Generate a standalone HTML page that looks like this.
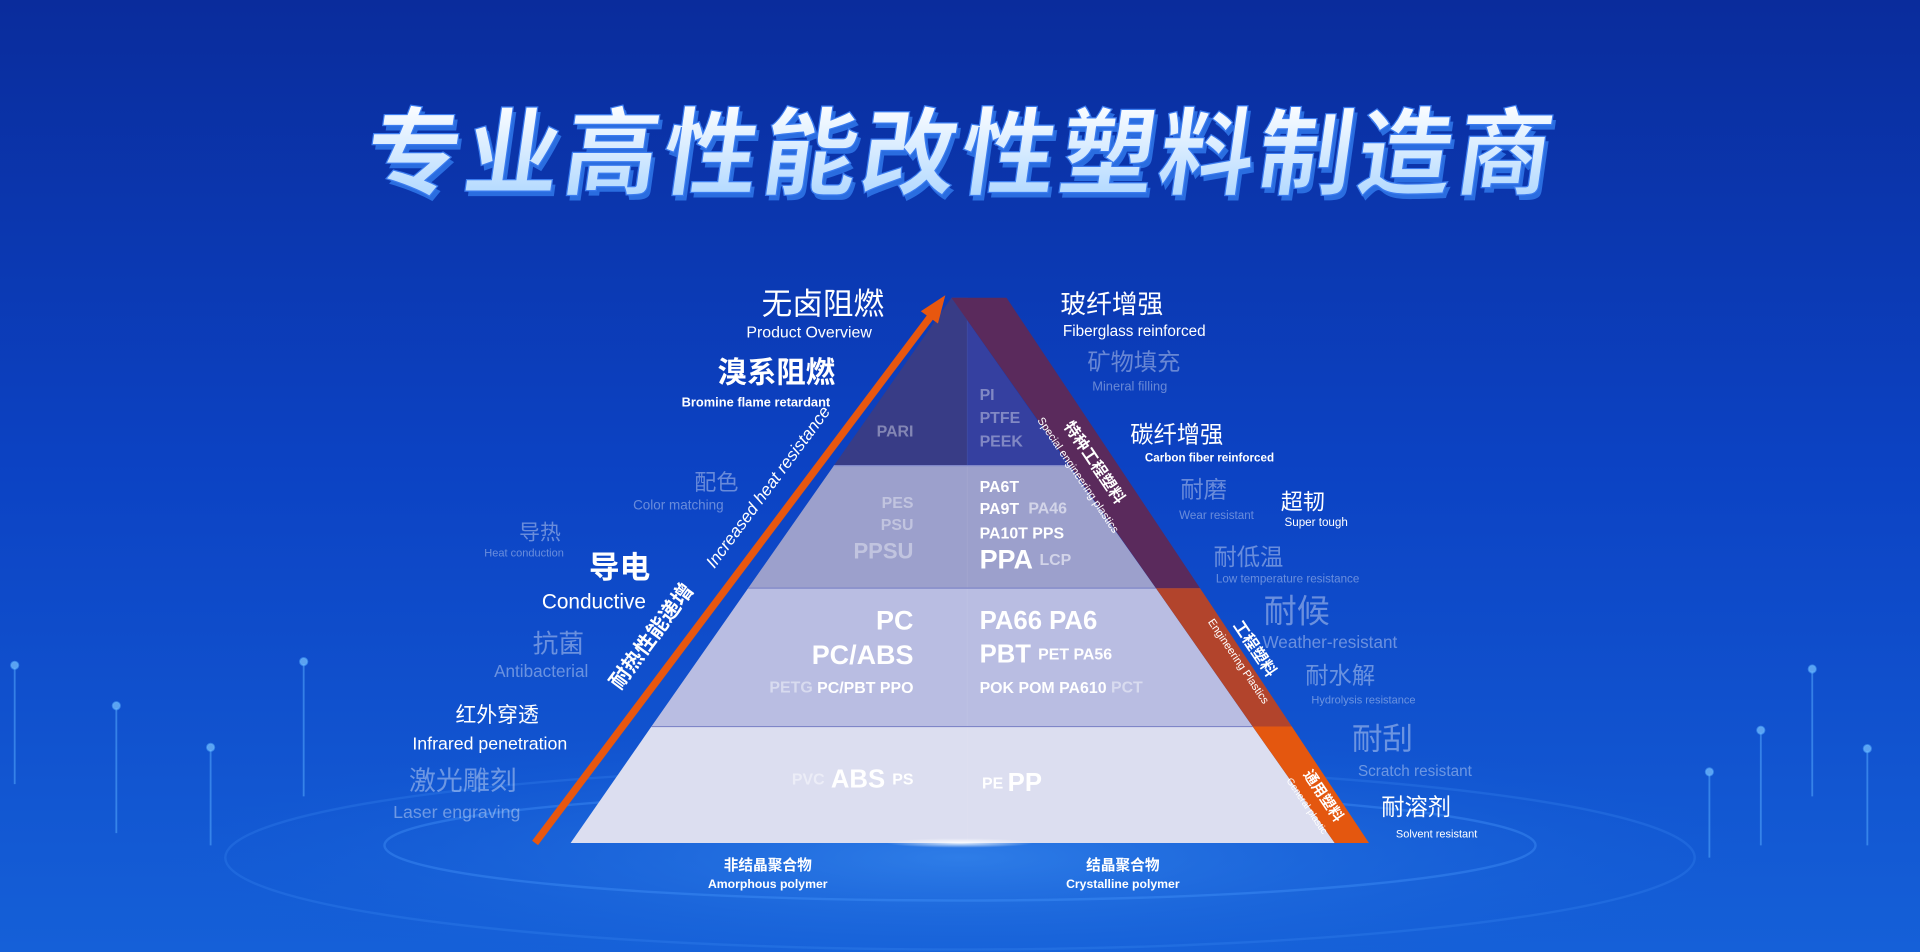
<!DOCTYPE html>
<html><head><meta charset="utf-8"><style>
html,body{margin:0;padding:0;width:1920px;height:952px;overflow:hidden;background:#0a36b0}
svg{display:block}
text{font-family:"Liberation Sans","Noto Sans CJK SC",sans-serif;dominant-baseline:middle}
.w{fill:#fff}.d{fill:#ffffff;fill-opacity:.38}.b{font-weight:bold}
</style></head><body>
<svg width="1920" height="952" viewBox="0 0 1568 777" preserveAspectRatio="none" xmlns="http://www.w3.org/2000/svg">
<defs>
<linearGradient id="bg" x1="0" y1="0" x2="0" y2="1">
<stop offset="0" stop-color="#0a2c9c"/><stop offset=".5" stop-color="#0c43c4"/><stop offset="1" stop-color="#1560d8"/></linearGradient>
<radialGradient id="gl" cx=".5" cy=".5" r=".5">
<stop offset="0" stop-color="#3a8cf0" stop-opacity=".7"/><stop offset="1" stop-color="#1560d8" stop-opacity="0"/></radialGradient>
<linearGradient id="tt" x1="0" y1="0" x2="0" y2="1"><stop offset="0" stop-color="#ffffff"/><stop offset="1" stop-color="#a8d4ff"/></linearGradient>
<radialGradient id="cg" cx=".5" cy=".5" r=".5"><stop offset="0" stop-color="#fff" stop-opacity=".9"/><stop offset="1" stop-color="#fff" stop-opacity="0"/></radialGradient>
</defs>
<rect width="1568" height="777" fill="url(#bg)"/>
<ellipse cx="784" cy="700" rx="650" ry="110" fill="url(#gl)"/>
<ellipse cx="784" cy="690" rx="470" ry="45" fill="none" stroke="#4a9cff" stroke-opacity=".35" stroke-width="2"/>
<ellipse cx="784" cy="700" rx="600" ry="75" fill="none" stroke="#4a9cff" stroke-opacity=".2" stroke-width="2"/>
<g stroke="#5ab0ff" stroke-opacity=".5" stroke-width="1.5" fill="#7cc4ff" fill-opacity=".7">
<line x1="12" y1="545" x2="12" y2="640"/><circle cx="12" cy="543" r="3"/>
<line x1="95" y1="578" x2="95" y2="680"/><circle cx="95" cy="576" r="3"/>
<line x1="248" y1="542" x2="248" y2="650"/><circle cx="248" cy="540" r="3"/>
<line x1="172" y1="612" x2="172" y2="690"/><circle cx="172" cy="610" r="3"/>
<line x1="1438" y1="598" x2="1438" y2="690"/><circle cx="1438" cy="596" r="3"/>
<line x1="1480" y1="548" x2="1480" y2="650"/><circle cx="1480" cy="546" r="3"/>
<line x1="1525" y1="613" x2="1525" y2="690"/><circle cx="1525" cy="611" r="3"/>
<line x1="1396" y1="632" x2="1396" y2="700"/><circle cx="1396" cy="630" r="3"/>
</g>
<!-- title -->
<g transform="translate(784,132) skewX(-8)">
<text x="3" y="4" text-anchor="middle" font-size="78" font-weight="bold" fill="#2a6de0" letter-spacing="3">专业高性能改性塑料制造商</text>
<text x="0" y="0" text-anchor="middle" font-size="78" font-weight="bold" fill="url(#tt)" stroke="#3b7cf0" stroke-width="1" letter-spacing="3">专业高性能改性塑料制造商</text>
</g>
<!-- pyramid tiers -->
<polygon points="777,243 790,243 790,380 681,380" fill="#383c86"/>
<polygon points="790,243 777,243 873,380 790,380" fill="#3540a0"/>
<polygon points="681,380 873,380 944,480 611,480" fill="#9ca0cc"/>
<polygon points="611,480 944,480 1023,593 532,593" fill="#b9bde2"/>
<polygon points="532,593 1023,593 1090,688 466,688" fill="#dcdef0"/>
<line x1="790" y1="243" x2="790" y2="688" stroke="#ffffff" stroke-opacity=".06"/>
<g stroke="#7f86c8" stroke-width="1"><line x1="681" y1="380" x2="873" y2="380"/><line x1="611" y1="480" x2="944" y2="480"/><line x1="532" y1="593" x2="1023" y2="593"/></g>
<!-- right band -->
<polygon points="777,243 822,243 980,480 944,480" fill="#5a2a5c"/>
<polygon points="944,480 980,480 1055,593 1023,593" fill="#b2442c"/>
<polygon points="1023,593 1055,593 1118,688 1090,688" fill="#e4570f"/>
<!-- arrow -->
<line x1="437" y1="688" x2="764" y2="253" stroke="#e8570f" stroke-width="6"/>
<polygon points="772,241 752,254 766,264" fill="#e8570f"/>
<ellipse cx="784" cy="688" rx="60" ry="4" fill="url(#cg)"/>
<!-- arrow labels -->
<text transform="translate(628,398) rotate(-53.5)" text-anchor="middle" font-size="14" font-style="italic" class="w">Increased heat resistance</text>
<text transform="translate(533,520) rotate(-53.5)" text-anchor="middle" font-size="17" class="w b">耐热性能递增</text>
<!-- band labels -->
<text transform="translate(893,378) rotate(56)" text-anchor="middle" font-size="13" class="w b">特种工程塑料</text>
<text transform="translate(880,388) rotate(56)" text-anchor="middle" font-size="9" class="w">Special engineering plastics</text>
<text transform="translate(1024,530) rotate(56)" text-anchor="middle" font-size="13" class="w b">工程塑料</text>
<text transform="translate(1011,540) rotate(56)" text-anchor="middle" font-size="9" class="w">Engineering Plastics</text>
<text transform="translate(1080,650) rotate(56)" text-anchor="middle" font-size="12" class="w b">通用塑料</text>
<text transform="translate(1067,658) rotate(56)" text-anchor="middle" font-size="8" class="w">General plastic</text>
<!-- pyramid text -->
<g class="b">
<text x="746" y="353" text-anchor="end" font-size="13" class="d" fill-opacity=".6">PARI</text>
<text x="800" y="323" font-size="13" class="d" fill-opacity=".6">PI</text>
<text x="800" y="342" font-size="13" class="d" fill-opacity=".6">PTFE</text>
<text x="800" y="361" font-size="13" class="d" fill-opacity=".6">PEEK</text>
<text x="746" y="411" text-anchor="end" font-size="13" class="d" fill-opacity=".65">PES</text>
<text x="746" y="429" text-anchor="end" font-size="13" class="d" fill-opacity=".65">PSU</text>
<text x="746" y="451" text-anchor="end" font-size="18" class="d" fill-opacity=".65">PPSU</text>
<text x="800" y="398" font-size="13" class="w">PA6T</text>
<text x="800" y="416" font-size="13" class="w">PA9T <tspan fill-opacity=".55" dx="4">PA46</tspan></text>
<text x="800" y="436" font-size="13" class="w">PA10T  PPS</text>
<text x="800" y="458" font-size="22" class="w">PPA <tspan font-size="13" fill-opacity=".55">LCP</tspan></text>
<text x="746" y="508" text-anchor="end" font-size="22" class="w">PC</text>
<text x="746" y="536" text-anchor="end" font-size="22" class="w">PC/ABS</text>
<text x="746" y="562" text-anchor="end" font-size="13" class="w"><tspan fill-opacity=".45">PETG</tspan>  PC/PBT  PPO</text>
<text x="800" y="508" font-size="21" class="w">PA66 PA6</text>
<text x="800" y="535" font-size="21" class="w">PBT <tspan font-size="13">PET  PA56</tspan></text>
<text x="800" y="562" font-size="13" class="w">POK  POM  PA610 <tspan fill-opacity=".45">PCT</tspan></text>
<text x="746" y="637" text-anchor="end" font-size="21" class="w"><tspan font-size="13" fill-opacity=".45">PVC</tspan>  ABS <tspan font-size="13">PS</tspan></text>
<text x="802" y="640" font-size="13" class="w">PE  <tspan font-size="21">PP</tspan></text>
</g>
<!-- left labels -->
<text x="722" y="250" text-anchor="end" font-size="25" class="w">无卤阻燃</text>
<text x="712" y="272" text-anchor="end" font-size="13" class="w">Product Overview</text>
<text x="682" y="306" text-anchor="end" font-size="24" class="w b">溴系阻燃</text>
<text x="678" y="329" text-anchor="end" font-size="10.5" class="w b">Bromine flame retardant</text>
<text x="585" y="395" text-anchor="middle" font-size="18" class="d">配色</text>
<text x="554" y="413" text-anchor="middle" font-size="11" class="d">Color matching</text>
<text x="441" y="436" text-anchor="middle" font-size="17" class="d">导热</text>
<text x="428" y="452" text-anchor="middle" font-size="9" class="d">Heat conduction</text>
<text x="506" y="465" text-anchor="middle" font-size="25" class="w b">导电</text>
<text x="485" y="492" text-anchor="middle" font-size="17" class="w">Conductive</text>
<text x="456" y="527" text-anchor="middle" font-size="21" class="d">抗菌</text>
<text x="442" y="549" text-anchor="middle" font-size="14" class="d">Antibacterial</text>
<text x="406" y="585" text-anchor="middle" font-size="17" class="w">红外穿透</text>
<text x="400" y="608" text-anchor="middle" font-size="14.5" class="w">Infrared penetration</text>
<text x="378" y="639" text-anchor="middle" font-size="22" class="d">激光雕刻</text>
<text x="373" y="664" text-anchor="middle" font-size="14.5" class="d">Laser engraving</text>
<!-- right labels -->
<text x="866" y="250" font-size="21" class="w">玻纤增强</text>
<text x="868" y="271" font-size="12.5" class="w">Fiberglass reinforced</text>
<text x="888" y="297" font-size="19" class="d" fill-opacity=".3">矿物填充</text>
<text x="892" y="316" font-size="10.5" class="d" fill-opacity=".3">Mineral filling</text>
<text x="923" y="356" font-size="19" class="w">碳纤增强</text>
<text x="935" y="374" font-size="9.5" class="w b">Carbon fiber reinforced</text>
<text x="964" y="401" font-size="19" class="d">耐磨</text>
<text x="963" y="421" font-size="9.5" class="d" fill-opacity=".6">Wear resistant</text>
<text x="1046" y="411" font-size="18" class="w">超韧</text>
<text x="1049" y="427" font-size="9.5" class="w">Super tough</text>
<text x="991" y="456" font-size="19" class="d">耐低温</text>
<text x="993" y="473" font-size="9.5" class="d">Low temperature resistance</text>
<text x="1032" y="501" font-size="27" class="d" fill-opacity=".5">耐候</text>
<text x="1031" y="525" font-size="14" class="d" fill-opacity=".6">Weather-resistant</text>
<text x="1066" y="553" font-size="19" class="d">耐水解</text>
<text x="1071" y="572" font-size="9" class="d">Hydrolysis resistance</text>
<text x="1104" y="605" font-size="25" class="d">耐刮</text>
<text x="1109" y="630" font-size="12.5" class="d" fill-opacity=".6">Scratch resistant</text>
<text x="1128" y="660" font-size="19" class="w">耐溶剂</text>
<text x="1140" y="681" font-size="9" class="w">Solvent resistant</text>
<!-- bottom -->
<text x="627" y="707" text-anchor="middle" font-size="12" class="w b">非结晶聚合物</text>
<text x="627" y="722" text-anchor="middle" font-size="10" class="w b">Amorphous polymer</text>
<text x="917" y="707" text-anchor="middle" font-size="12" class="w b">结晶聚合物</text>
<text x="917" y="722" text-anchor="middle" font-size="10" class="w b">Crystalline polymer</text>
</svg>
</body></html>
